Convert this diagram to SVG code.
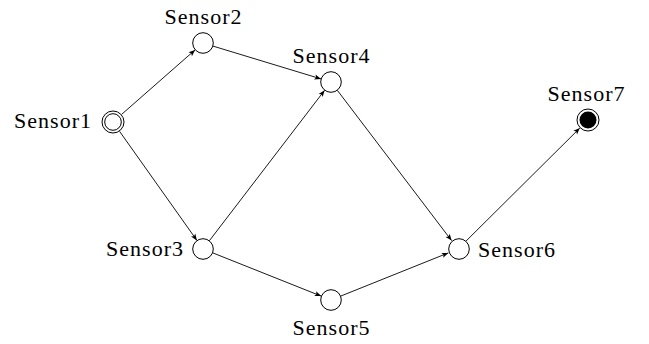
<svg xmlns="http://www.w3.org/2000/svg" width="649" height="344" viewBox="0 0 649 344">
<style>
.n{fill:#fff;stroke:#000;stroke-width:1}
.e{stroke:#000;stroke-width:0.9;fill:none;marker-end:url(#ah)}
text{font-family:"Liberation Serif","DejaVu Serif",serif;font-size:22px;fill:#000}
</style>
<defs>
<marker id="ah" markerUnits="userSpaceOnUse" markerWidth="10" markerHeight="8" viewBox="-7 -4 8 8" refX="0" refY="0" orient="auto">
<path d="M0,0 L-6.5,-2.6 L-5,0 L-6.5,2.6 Z" fill="#000"/>
</marker>
</defs>
<rect width="649" height="344" fill="#fff"/>
<g id="connectors">
<line class="e" x1="121.6" y1="114.4" x2="195.1" y2="49.9"/>
<line class="e" x1="119.6" y1="131.4" x2="196.9" y2="240.4"/>
<line class="e" x1="213.0" y1="46.1" x2="321.0" y2="78.9"/>
<line class="e" x1="209.4" y1="240.7" x2="324.6" y2="90.3"/>
<line class="e" x1="212.8" y1="252.9" x2="321.2" y2="296.1"/>
<line class="e" x1="337.4" y1="90.4" x2="451.6" y2="240.6"/>
<line class="e" x1="340.7" y1="296.1" x2="448.3" y2="252.9"/>
<line class="e" x1="465.5" y1="241.6" x2="579.8" y2="128.1"/>
</g>
<g id="Sensor1">
<circle class="n" cx="113" cy="122" r="11"/>
<circle class="n" cx="113" cy="122" r="8.3"/>
<text x="91" y="128" text-anchor="end" textLength="77">Sensor1</text>
</g>
<g id="Sensor2">
<circle class="n" cx="203" cy="43" r="10.3"/>
<text x="203" y="24" text-anchor="middle" textLength="77">Sensor2</text>
</g>
<g id="Sensor3">
<circle class="n" cx="203" cy="249" r="10.3"/>
<text x="183" y="256" text-anchor="end" textLength="77">Sensor3</text>
</g>
<g id="Sensor4">
<circle class="n" cx="331" cy="82" r="10.3"/>
<text x="331" y="63" text-anchor="middle" textLength="77">Sensor4</text>
</g>
<g id="Sensor5">
<circle class="n" cx="331" cy="300" r="10.3"/>
<text x="331" y="335" text-anchor="middle" textLength="77">Sensor5</text>
</g>
<g id="Sensor6">
<circle class="n" cx="459" cy="249" r="10.3"/>
<text x="478" y="256.5" textLength="77">Sensor6</text>
</g>
<g id="Sensor7">
<circle class="n" cx="588" cy="120" r="11"/>
<circle cx="588" cy="120" r="8.5" fill="#000"/>
<text x="586" y="101" text-anchor="middle" textLength="77">Sensor7</text>
</g>
</svg>
